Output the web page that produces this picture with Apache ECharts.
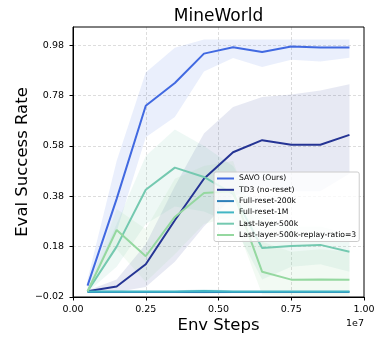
<!DOCTYPE html>
<html>
<head>
<meta charset="utf-8">
<script src="https://cdn.jsdelivr.net/npm/echarts@6/dist/echarts.min.js"></script>
<style>
  html, body { margin: 0; padding: 0; background: #fff; }
  #chart { width: 376px; height: 337px; }
</style>
</head>
<body>
<div id="chart"></div>
<script>
// Evaluation checkpoints (environment steps)
const steps = [5e5, 1.5e6, 2.5e6, 3.5e6, 4.5e6, 5.5e6, 6.5e6, 7.5e6, 8.5e6, 9.5e6];

// Mean success rate and shaded range per method
const savoMean  = [0.025, 0.37, 0.74, 0.83, 0.947, 0.972, 0.953, 0.975, 0.971, 0.971];
const savoLow   = [0.0, 0.24, 0.615, 0.695, 0.876, 0.93, 0.894, 0.923, 0.916, 0.931];
const savoHigh  = [0.05, 0.52, 0.872, 0.97, 1.003, 1.003, 1.003, 1.003, 1.003, 1.003];

const td3Mean   = [0.003, 0.022, 0.11, 0.285, 0.45, 0.555, 0.603, 0.585, 0.585, 0.624];
const td3Low    = [0.0, 0.0, 0.02, 0.12, 0.26, 0.38, 0.42, 0.40, 0.40, 0.47];
const td3High   = [0.006, 0.05, 0.19, 0.42, 0.63, 0.735, 0.775, 0.785, 0.80, 0.825];

const fr200Mean = [0.0, 0.0, 0.0, 0.0, 0.001, 0.0, 0.0, 0.0, 0.0, 0.0];
const fr200Low  = [-0.004, -0.004, -0.004, -0.004, -0.006, -0.004, -0.004, -0.004, -0.004, -0.004];
const fr200High = [0.004, 0.004, 0.004, 0.004, 0.008, 0.004, 0.004, 0.004, 0.004, 0.004];

const fr1mMean  = [0.002, 0.002, 0.002, 0.002, 0.004, 0.002, 0.002, 0.002, 0.002, 0.002];
const fr1mLow   = [-0.002, -0.002, -0.002, -0.002, -0.004, -0.002, -0.002, -0.002, -0.002, -0.002];
const fr1mHigh  = [0.006, 0.006, 0.006, 0.006, 0.012, 0.006, 0.006, 0.006, 0.006, 0.006];

const ll500Mean = [0.003, 0.18, 0.406, 0.494, 0.457, 0.39, 0.175, 0.183, 0.187, 0.16];
const ll500Low  = [0.0, 0.10, 0.27, 0.34, 0.32, 0.27, 0.05, 0.10, 0.11, 0.08];
const ll500High = [0.008, 0.27, 0.54, 0.645, 0.58, 0.50, 0.30, 0.26, 0.26, 0.23];

const rrMean    = [0.003, 0.246, 0.142, 0.298, 0.393, 0.40, 0.08, 0.049, 0.05, 0.049];
const rrLow     = [0.0, 0.17, 0.04, 0.15, 0.27, 0.30, -0.01, -0.015, -0.015, -0.015];
const rrHigh    = [0.008, 0.33, 0.25, 0.45, 0.50, 0.52, 0.20, 0.16, 0.17, 0.16];

// Axis ticks
const xTicks = [0, 2.5e6, 5e6, 7.5e6, 1e7];
const yTicks = [-0.02, 0.18, 0.38, 0.58, 0.78, 0.98];

const methods = [
  { name: 'SAVO (Ours)', color: '#4169e1', rgb: '65,105,225', alpha: 0.11, mean: savoMean, low: savoLow, high: savoHigh },
  { name: 'TD3 (no-reset)', color: '#253494', rgb: '37,52,148', alpha: 0.11, mean: td3Mean, low: td3Low, high: td3High },
  { name: 'Full-reset-200k', color: '#2c7fb8', rgb: '44,127,184', alpha: 0.12, mean: fr200Mean, low: fr200Low, high: fr200High },
  { name: 'Full-reset-1M', color: '#41b6c4', rgb: '65,182,196', alpha: 0.12, mean: fr1mMean, low: fr1mLow, high: fr1mHigh },
  { name: 'Last-layer-500k', color: '#74c9b0', rgb: '116,201,176', alpha: 0.12, mean: ll500Mean, low: ll500Low, high: ll500High },
  { name: 'Last-layer-500k-replay-ratio=3', color: '#95d8a0', rgb: '149,216,160', alpha: 0.12, mean: rrMean, low: rrLow, high: rrHigh }
];

const FONT = 'DejaVu Sans';
const series = [];

// Shaded ranges: one polygon per method, upper edge forward then lower edge back
methods.forEach((m, i) => {
  series.push({
    type: 'custom', name: 'band-' + i, silent: true, z: 1,
    data: steps.map((s, k) => [s, m.low[k], m.high[k]]),
    encode: { x: 0, y: [1, 2] },
    renderItem: (params, api) => {
      if (params.dataIndex !== 0) return null;
      const upper = steps.map((s, k) => api.coord([s, m.high[k]]));
      const lower = steps.map((s, k) => api.coord([s, m.low[k]])).reverse();
      return {
        type: 'polygon',
        shape: { points: upper.concat(lower) },
        style: { fill: 'rgba(' + m.rgb + ',' + m.alpha + ')', stroke: null }
      };
    }
  });
});

// Mean curves
methods.forEach((m) => {
  series.push({
    type: 'line', name: m.name,
    data: steps.map((s, k) => [s, m.mean[k]]),
    symbol: 'none', color: m.color,
    lineStyle: { color: m.color, width: 2 }, z: 3
  });
});

const gridLine = { show: true, showMinLine: false, showMaxLine: false,
  lineStyle: { color: '#d4d4d4', type: [3, 2], width: 0.8 } };

const chart = echarts.init(document.getElementById('chart'), null, { renderer: 'canvas' });
chart.setOption({
  animation: false,
  backgroundColor: '#fff',
  title: {
    text: 'MineWorld', left: 218.5, top: 8, textAlign: 'center', padding: 0,
    textStyle: { fontFamily: FONT, fontSize: 17, fontWeight: 'normal', color: '#000' }
  },
  grid: {
    left: 73, right: 12, top: 27, bottom: 40,
    outerBoundsMode: 'none', containLabel: false,
    show: true, borderColor: '#000', borderWidth: 1, backgroundColor: 'transparent', z: 5
  },
  legend: {
    data: methods.map(m => m.name),
    orient: 'vertical', left: 214, top: 172,
    padding: [2, 3, 2, 3], itemGap: 2.3,
    itemWidth: 17, itemHeight: 2, icon: 'rect',
    backgroundColor: 'rgba(255,255,255,0.8)', borderColor: '#cccccc', borderWidth: 1, borderRadius: 2,
    textStyle: { fontFamily: FONT, fontSize: 7.65, color: '#000', lineHeight: 9 }
  },
  xAxis: {
    type: 'value', min: 0, max: 1e7, interval: 2.5e6,
    name: 'Env Steps', nameLocation: 'middle', nameGap: 20, nameMoveOverlap: false,
    nameTextStyle: { fontFamily: FONT, fontSize: 16.5, color: '#000' },
    axisLine: { show: true, onZero: false, lineStyle: { color: '#000', width: 1 } },
    axisTick: { show: true, inside: false, length: 3.5, lineStyle: { color: '#000' } },
    axisLabel: {
      fontFamily: FONT, fontSize: 9.5, color: '#000', margin: 8,
      formatter: v => xTicks.indexOf(v) >= 0 ? (v / 1e7).toFixed(2) : ''
    },
    splitLine: gridLine
  },
  yAxis: {
    type: 'value', min: -0.02, max: 1.0527, interval: 0.2,
    name: 'Eval Success Rate', nameLocation: 'middle', nameGap: 42, nameMoveOverlap: false,
    nameTextStyle: { fontFamily: FONT, fontSize: 16.5, color: '#000' },
    axisLine: { show: true, onZero: false, lineStyle: { color: '#000', width: 1 } },
    axisTick: { show: true, inside: false, length: 3.5, lineStyle: { color: '#000' } },
    axisLabel: {
      fontFamily: FONT, fontSize: 9.5, color: '#000', margin: 9, showMaxLabel: false,
      formatter: v => {
        const hit = yTicks.find(t => Math.abs(t - v) < 1e-6);
        return hit === undefined ? '' : hit.toFixed(2).replace('-', '\u2212');
      }
    },
    splitLine: gridLine
  },
  graphic: [{
    type: 'text', right: 12, top: 319,
    style: { text: '1e7', fill: '#000', font: '9.5px "DejaVu Sans"' }
  }],
  series: series
});
</script>
</body>
</html>
